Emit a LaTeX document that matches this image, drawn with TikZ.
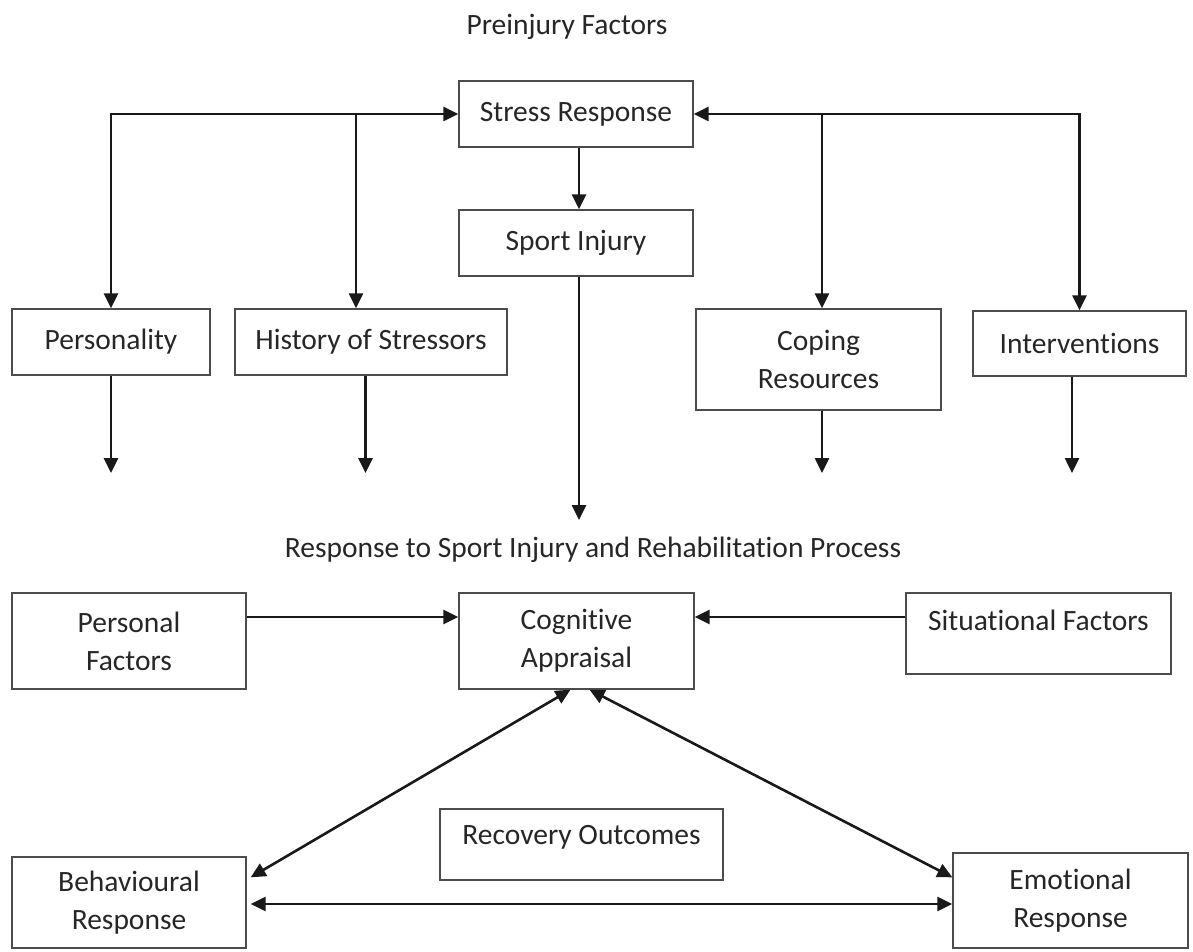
\documentclass[tikz,border=0pt]{standalone}
\usepackage{fontspec}
\setmainfont{Carlito}[Ligatures=NoCommon]
\usepackage{tikz}
\usetikzlibrary{positioning, arrows.meta}
\tikzstyle{factorBox}=[draw=black!70, line width=1.3pt, text=black!85, align=center, inner sep=0pt, font=\fontsize{29.5}{38}\selectfont]
\tikzstyle{heading}=[text=black!85, inner sep=0pt, font=\fontsize{29.5}{38}\selectfont]
\tikzstyle{flowArrow}=[-{Triangle[length=15pt,width=14pt]}, line width=2.6pt, black!90]
\tikzstyle{twoWay}=[{Triangle[length=15pt,width=14pt]}-{Triangle[length=15pt,width=14pt]}, line width=2.6pt, black!90]

\begin{document}
\begin{tikzpicture}[x=1pt, y=-1pt]

    \useasboundingbox (0,0) rectangle (1193,951);

    % preinjury part
    \node[heading] (preTitle) at (567,27) {Preinjury Factors};
    \node[factorBox, minimum width=234pt, minimum height=66pt] (stress) at (576,114) {Stress Response};
    \node[factorBox, minimum width=234pt, minimum height=66pt] (injury) at (576,243) {Sport Injury};
    \node[factorBox, minimum width=198pt, minimum height=66pt] (person) at (111,342) {Personality};
    \node[factorBox, minimum width=272pt, minimum height=66pt] (history) at (371,342) {History of Stressors};
    \node[factorBox, minimum width=245pt, minimum height=101pt] (coping) at (818.5,359.5) {Coping\\Resources};
    \node[factorBox, minimum width=213pt, minimum height=65pt] (interv) at (1079.5,343.5) {Interventions};

    \coordinate (histJoin) at (356,114);
    \coordinate (copeJoin) at (822,114);
    \coordinate (personEnd) at (111,473);
    \coordinate (historyEnd) at (365.5,473);
    \coordinate (copingEnd) at (822,473);
    \coordinate (intervEnd) at (1072,473);
    \coordinate (injuryEnd) at (579,520);

    \draw[twoWay] (person.north) |- (stress.west);
    \draw[twoWay] (interv.north) |- (stress.east);
    \draw[flowArrow] (histJoin) -- (histJoin |- history.north);
    \draw[flowArrow] (copeJoin) -- (copeJoin |- coping.north);
    \draw[flowArrow] ([xshift=3pt]stress.south) -- ([xshift=3pt]injury.north);
    \draw[flowArrow] ([xshift=3pt]injury.south) -- (injuryEnd);
    \draw[flowArrow] (person.south) -- (personEnd);
    \draw[flowArrow] (historyEnd |- history.south) -- (historyEnd);
    \draw[flowArrow] (copingEnd |- coping.south) -- (copingEnd);
    \draw[flowArrow] (intervEnd |- interv.south) -- (intervEnd);

    % response part
    \node[heading] (respTitle) at (593,550) {Response to Sport Injury and Rehabilitation Process};
    \node[factorBox, minimum width=234pt, minimum height=96pt] (personal) at (129,641) {Personal\\Factors};
    \node[factorBox, minimum width=235pt, minimum height=96pt] (cognitive) at (576.5,641) {Cognitive\\Appraisal};
    \node[factorBox, minimum width=265pt, minimum height=81pt, text height=19pt, text depth=25pt] (situational) at (1038.5,633.5) {Situational Factors};
    \node[factorBox, minimum width=283pt, minimum height=71pt, text height=19pt, text depth=19pt] (recovery) at (581.5,844.5) {Recovery Outcomes};
    \node[factorBox, minimum width=234pt, minimum height=91pt] (behav) at (129,902.5) {Behavioural\\Response};
    \node[factorBox, minimum width=235pt, minimum height=95pt] (emot) at (1070.5,900.5) {Emotional\\Response};

    \draw[flowArrow] ([yshift=24pt]personal.east) -- ([yshift=24pt]cognitive.west);
    \draw[flowArrow] ([yshift=16.5pt]situational.west) -- ([yshift=24pt]cognitive.east);
    \draw[twoWay] ([xshift=-6pt]cognitive.south) -- ([xshift=4pt, yshift=-21pt]behav.north east);
    \draw[twoWay] ([xshift=13pt]cognitive.south) -- ([yshift=-25pt]emot.north west);
    \draw[twoWay] ([xshift=4pt, yshift=-1.5pt]behav.east) -- ([yshift=-1.5pt]behav.east -| emot.west);

\end{tikzpicture}
\end{document}
